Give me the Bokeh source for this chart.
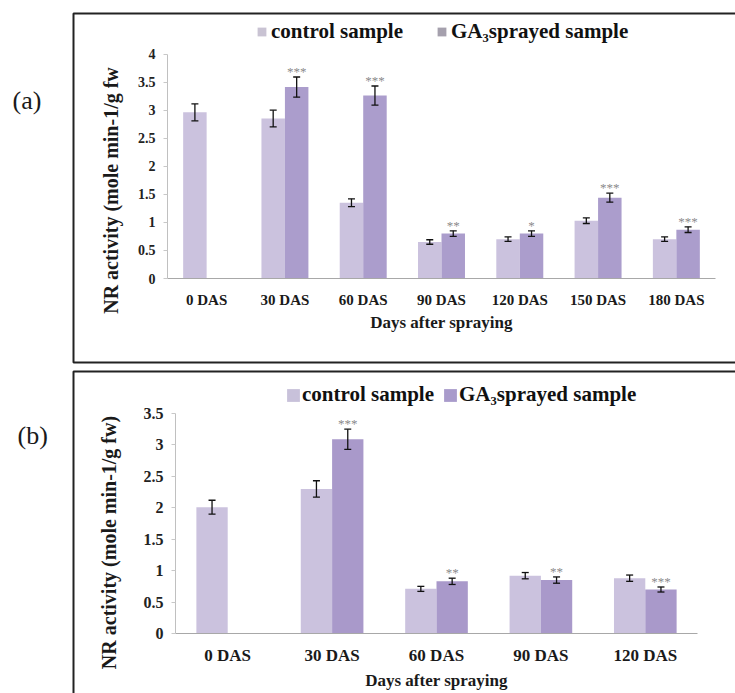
from math import pi

from bokeh.core.properties import value
from bokeh.embed import file_html
from bokeh.layouts import column
from bokeh.models import (BoxAnnotation, ColumnDataSource, FixedTicker, Label, Legend,
                          LegendItem, Range1d, TeeHead, Whisker)
from bokeh.plotting import figure
from bokeh.resources import INLINE

# ---- panel (a): NR activity, 0-180 days after spraying ----
days_a = ["0 DAS", "30 DAS", "60 DAS", "90 DAS", "120 DAS", "150 DAS", "180 DAS"]
control_a = [2.96, 2.85, 1.35, 0.65, 0.70, 1.03, 0.70]
control_err_a = [0.15, 0.15, 0.07, 0.04, 0.04, 0.05, 0.04]
ga_days_a = ["30 DAS", "60 DAS", "90 DAS", "120 DAS", "150 DAS", "180 DAS"]
ga_a = [3.41, 3.26, 0.80, 0.80, 1.44, 0.87]
ga_err_a = [0.18, 0.17, 0.05, 0.05, 0.08, 0.05]
stars_a = ["***", "***", "**", "*", "***", "***"]
yticks_a = [0, 0.5, 1, 1.5, 2, 2.5, 3, 3.5, 4]
ytick_labels_a = ["0", "0.5", "1", "1.5", "2", "2.5", "3", "3.5", "4"]

# ---- panel (b): NR activity, 0-120 days after spraying ----
days_b = ["0 DAS", "30 DAS", "60 DAS", "90 DAS", "120 DAS"]
control_b = [2.01, 2.30, 0.71, 0.92, 0.88]
control_err_b = [0.11, 0.13, 0.04, 0.05, 0.05]
ga_days_b = ["30 DAS", "60 DAS", "90 DAS", "120 DAS"]
ga_b = [3.09, 0.83, 0.85, 0.70]
ga_err_b = [0.16, 0.05, 0.05, 0.04]
stars_b = ["***", "**", "**", "***"]
yticks_b = [0, 0.5, 1, 1.5, 2, 2.5, 3, 3.5]
ytick_labels_b = ["0", "0.5", "1", "1.5", "2", "2.5", "3", "3.5"]

SERIF = "Liberation Serif"
WIDTH = 735
NAN = float("nan")


def pixel_range(px_lo, px_hi, v_lo, v_hi, size):
    """Range over a full canvas side so that v_lo/v_hi land on px_lo/px_hi."""
    ppu = (px_hi - px_lo) / (v_hi - v_lo)
    start = v_lo - px_lo / ppu
    return Range1d(start, start + size / ppu)


def build_panel(tag, days, ctrl, ctrl_err, ga_days, ga, ga_err, stars, yticks, ylabels,
                ytitle, height, plot_x, plot_y, box, tag_xy, ytitle_xy, legend_cfg,
                fonts, colors, standoffs):
    n = len(days)
    ymax = yticks[-1]
    # plot_x: canvas x of the category axis start/end; plot_y: canvas y of 0 and ymax
    x_range = pixel_range(plot_x[0], plot_x[1], 0, n, WIDTH)
    y_range = pixel_range(height - plot_y[0], height - plot_y[1], 0, ymax, height)

    p = figure(width=WIDTH, height=height, x_range=x_range, y_range=y_range,
               output_backend="svg", toolbar_location=None,
               min_border_left=0, min_border_right=0, min_border_top=0, min_border_bottom=0)
    p.background_fill_color = "white"
    p.border_fill_color = "white"
    p.outline_line_color = None
    p.xgrid.grid_line_color = None
    p.ygrid.grid_line_color = None

    pos = {d: i + 0.5 for i, d in enumerate(days)}
    shift, bw = 0.15, 0.3
    ctrl_src = ColumnDataSource(dict(
        x=[pos[d] - shift for d in days], val=ctrl,
        lo=[v - e for v, e in zip(ctrl, ctrl_err)],
        hi=[v + e for v, e in zip(ctrl, ctrl_err)]))
    ga_src = ColumnDataSource(dict(
        x=[pos[d] + shift for d in ga_days], val=ga, star=stars,
        lo=[v - e for v, e in zip(ga, ga_err)],
        hi=[v + e for v, e in zip(ga, ga_err)]))

    p.vbar(x="x", top="val", width=bw, source=ctrl_src,
           fill_color=colors[0], line_color=None)
    p.vbar(x="x", top="val", width=bw, source=ga_src,
           fill_color=colors[1], line_color=None)

    for src in (ctrl_src, ga_src):
        p.add_layout(Whisker(
            source=src, base="x", upper="hi", lower="lo", level="annotation",
            line_color="#111111", line_width=1.3,
            upper_head=TeeHead(size=7, line_color="#111111", line_width=1.3),
            lower_head=TeeHead(size=7, line_color="#111111", line_width=1.3)))

    # significance marks above the GA3 bars
    p.text(x="x", y="hi", text="star", source=ga_src,
           text_align="center", text_baseline="bottom", y_offset=2,
           text_font=value(SERIF), text_font_size="13px", text_color="#8a8a8a")

    # y axis sits on the left edge of the first category
    p.yaxis.fixed_location = 0
    p.yaxis.bounds = (0, ymax)
    p.yaxis.ticker = FixedTicker(ticks=yticks)
    p.yaxis.major_label_overrides = {t: s for t, s in zip(yticks, ylabels)}
    p.yaxis.minor_tick_line_color = None
    p.yaxis.major_tick_in = 0
    p.yaxis.major_tick_out = 4
    p.yaxis.major_tick_line_color = "#c8c8c8"
    p.yaxis.axis_line_color = "#c0c0c0"
    p.yaxis.major_label_standoff = 8
    p.yaxis.major_label_text_font = SERIF
    p.yaxis.major_label_text_font_style = "bold"
    p.yaxis.major_label_text_font_size = fonts["ytick"]
    p.yaxis.major_label_text_color = "#222222"

    # category axis on y = 0
    p.xaxis.fixed_location = 0
    p.xaxis.bounds = (0, n)
    p.xaxis.ticker = FixedTicker(ticks=[pos[d] for d in days])
    p.xaxis.major_label_overrides = {pos[d]: d for d in days}
    p.xaxis.major_tick_line_color = None
    p.xaxis.minor_tick_line_color = None
    p.xaxis.axis_line_color = "#a8a8a8"
    p.xaxis.major_label_standoff = standoffs[0]
    p.xaxis.major_label_text_font = SERIF
    p.xaxis.major_label_text_font_style = "bold"
    p.xaxis.major_label_text_font_size = fonts["xtick"]
    p.xaxis.major_label_text_color = "#1a1a1a"
    p.xaxis.axis_label = "Days after spraying"
    p.xaxis.axis_label_standoff = standoffs[1]
    p.xaxis.axis_label_text_font = SERIF
    p.xaxis.axis_label_text_font_style = "bold"
    p.xaxis.axis_label_text_font_size = fonts["xtitle"]
    p.xaxis.axis_label_text_color = "#1a1a1a"

    # rotated y title
    p.add_layout(Label(x=ytitle_xy[0], y=height - ytitle_xy[1], x_units="screen",
                       y_units="screen", text=ytitle, angle=pi / 2, text_align="center",
                       text_baseline="middle", text_font=SERIF, text_font_style="bold",
                       text_font_size=fonts["ytitle"], text_color="#1a1a1a"))

    # panel tag
    p.add_layout(Label(x=tag_xy[0], y=height - tag_xy[1], x_units="screen",
                       y_units="screen", text=tag, text_align="left",
                       text_baseline="middle", text_font=SERIF, text_font_size="26px",
                       text_color="#1a1a1a"))

    # framing box around the panel
    p.add_layout(BoxAnnotation(left=box[0], right=box[1], top=height - box[2],
                               bottom=height - box[3],
                               left_units="screen", right_units="screen",
                               top_units="screen", bottom_units="screen",
                               fill_color=None, fill_alpha=0,
                               line_color="#222222", line_alpha=1, line_width=2))

    # legend swatches: bar renderers holding a single undrawn (NaN) bar
    sw1 = p.vbar(x=[NAN], top=[NAN], width=bw,
                 fill_color=legend_cfg["colors"][0], line_color=None)
    sw2 = p.vbar(x=[NAN], top=[NAN], width=bw,
                 fill_color=legend_cfg["colors"][1], line_color=None)
    legend = Legend(items=[LegendItem(label="control sample", renderers=[sw1]),
                           LegendItem(label="GA\u2083sprayed sample", renderers=[sw2])],
                    orientation="horizontal",
                    location=(legend_cfg["left"], height - legend_cfg["bottom"]),
                    padding=0, margin=0, spacing=legend_cfg["spacing"],
                    label_standoff=legend_cfg["standoff"],
                    glyph_width=legend_cfg["glyph"], glyph_height=legend_cfg["glyph"],
                    border_line_color=None, background_fill_alpha=0,
                    label_text_font=SERIF, label_text_font_style="bold",
                    label_text_font_size=fonts["legend"], label_text_color="#111111")
    p.add_layout(legend, "center")
    return p


pa = build_panel(
    "(a)", days_a, control_a, control_err_a, ga_days_a, ga_a, ga_err_a, stars_a,
    yticks_a, ytick_labels_a, "NR activity (mole min-1/g fw",
    height=367, plot_x=(167, 715), plot_y=(278, 53.5), box=(73, 760, 13, 362),
    tag_xy=(12, 100), ytitle_xy=(110, 190),
    legend_cfg=dict(left=256, bottom=44, spacing=33, standoff=4, glyph=11,
                    colors=("#c9c3d3", "#a5a0ad")),
    fonts=dict(ytick="14px", xtick="15px", xtitle="17px", ytitle="20px", legend="21px"),
    colors=("#cbc2de", "#ab9dcc"), standoffs=(7, 2))

pb = build_panel(
    "(b)", days_b, control_b, control_err_b, ga_days_b, ga_b, ga_err_b, stars_b,
    yticks_b, ytick_labels_b, "NR activity (mole min-1/g fw)",
    height=326, plot_x=(175, 697), plot_y=(266, 46), box=(73, 760, 4, 360),
    tag_xy=(17, 68), ytitle_xy=(108, 175),
    legend_cfg=dict(left=285, bottom=40, spacing=8, standoff=1, glyph=16,
                    colors=("#c8c1da", "#a99bcb")),
    fonts=dict(ytick="16px", xtick="17px", xtitle="17px", ytitle="20px", legend="21px"),
    colors=("#cbc2de", "#a999ca"), standoffs=(6, 3))

layout = column(pa, pb, spacing=0)
open("out.html", "w").write(file_html(layout, INLINE))
